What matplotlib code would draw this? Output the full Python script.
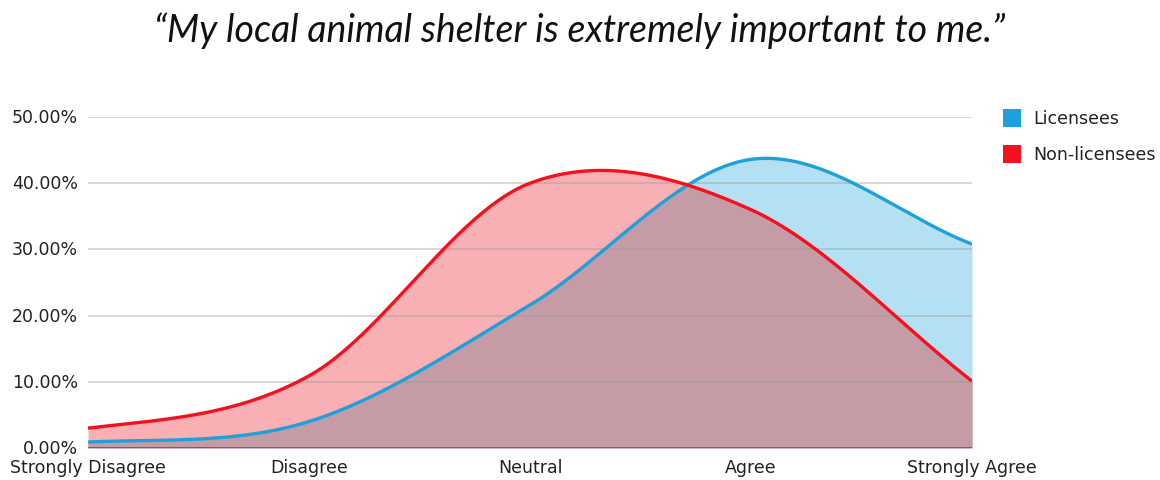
import os
import numpy as np
import matplotlib
matplotlib.use("Agg")
import matplotlib.pyplot as plt
from matplotlib.patches import Rectangle
from matplotlib import font_manager as fm

categories = ["Strongly Disagree", "Disagree", "Neutral", "Agree", "Strongly Agree"]
licensees = [0.9, 4.0, 21.6, 43.6, 30.8]
non_licensees = [3.0, 10.9, 40.0, 36.0, 10.1]
yticks = [0, 10, 20, 30, 40, 50]
ytick_labels = ["0.00%", "10.00%", "20.00%", "30.00%", "40.00%", "50.00%"]
title = "\u201cMy local animal shelter is extremely important to me.\u201d"

BLUE_LINE = "#1ea0dc"
RED_LINE = "#f5101e"
BLUE_FILL = "#b3e0f2"
RED_FILL = "#f9b0b4"
OVER_FILL = "#c59ca6"


def find_title_font():
    bad = ("bold", "light", "thin", "black", "heavy", "semibold", "medium",
           "hairline", "condensed", "extra")
    cands = []
    for f in fm.findSystemFonts():
        b = os.path.basename(f).lower()
        if "lato" in b and "italic" in b and not any(w in b for w in bad):
            cands.append(f)
    cands.sort(key=lambda p: len(os.path.basename(p)))
    if cands:
        return fm.FontProperties(fname=cands[0])
    return fm.FontProperties(family="Lato", style="italic")


def catmull_rom(x, y, xs):
    x = np.asarray(x, float)
    y = np.asarray(y, float)
    n = len(x)
    m = np.empty(n)
    m[0] = 0.5 * (y[1] - y[0]) / (x[1] - x[0])
    m[-1] = (y[-1] - y[-2]) / (x[-1] - x[-2])
    for i in range(1, n - 1):
        m[i] = (y[i + 1] - y[i - 1]) / (x[i + 1] - x[i - 1])
    out = np.empty_like(xs)
    for k, xv in enumerate(xs):
        i = int(np.clip(np.searchsorted(x, xv, side="right") - 1, 0, n - 2))
        h = x[i + 1] - x[i]
        t = (xv - x[i]) / h
        h00 = 2 * t**3 - 3 * t**2 + 1
        h10 = t**3 - 2 * t**2 + t
        h01 = -2 * t**3 + 3 * t**2
        h11 = t**3 - t**2
        out[k] = h00 * y[i] + h10 * h * m[i] + h01 * y[i + 1] + h11 * h * m[i + 1]
    return out


xpos = np.arange(len(categories))
xs = np.linspace(0, len(categories) - 1, 800)
lb = catmull_rom(xpos, licensees, xs)
nl = catmull_rom(xpos, non_licensees, xs)

fig = plt.figure(figsize=(11.6, 4.81), dpi=100)
ax = fig.add_axes([88 / 1160, 1 - 449 / 481, (972 - 88) / 1160, (449 - 118) / 481])

ax.fill_between(xs, 0, lb, color=BLUE_FILL, lw=0, zorder=1)
ax.fill_between(xs, 0, nl, color=RED_FILL, lw=0, zorder=1.1)
ax.fill_between(xs, 0, np.minimum(lb, nl), color=OVER_FILL, lw=0, zorder=1.2)
for yv in yticks[1:]:
    ax.axhline(yv, color="#999999", lw=1.2, alpha=0.45, zorder=2)
ax.plot(xs, lb, color=BLUE_LINE, lw=2.4, zorder=3, solid_capstyle="butt")
ax.plot(xs, nl, color=RED_LINE, lw=2.4, zorder=3.1, solid_capstyle="butt")
ax.axhline(0, color="#6e5a5e", lw=2.0, zorder=4)

ax.set_xlim(0, len(categories) - 1)
ax.set_ylim(0, 50)
ax.set_yticks(yticks)
ax.set_yticklabels(ytick_labels)
ax.set_xticks(xpos)
ax.set_xticklabels(categories)
for s in ax.spines.values():
    s.set_visible(False)
ax.tick_params(length=0, labelsize=12.5, colors="#222222")
ax.tick_params(axis="y", pad=7)
ax.tick_params(axis="x", pad=7)
for lab in ax.get_yticklabels():
    lab.set_verticalalignment("center")

tfp = find_title_font()
tfp.set_size(27)
fig.text(0.5, 1 - 31 / 481, title, ha="center", va="center", fontproperties=tfp,
         color="#111111")

# legend
for i, (name, col) in enumerate([("Licensees", "#1ea0dc"), ("Non-licensees", "#f5101e")]):
    yc = 119 + i * 36
    fig.patches.append(Rectangle((1003 / 1160, 1 - (yc + 9) / 481), 18 / 1160, 18 / 481,
                                 transform=fig.transFigure, facecolor=col, edgecolor="none"))
    fig.text(1033 / 1160, 1 - yc / 481, name, ha="left", va="center", fontsize=12.5, color="#222222")

fig.savefig("out.png", dpi=100)
